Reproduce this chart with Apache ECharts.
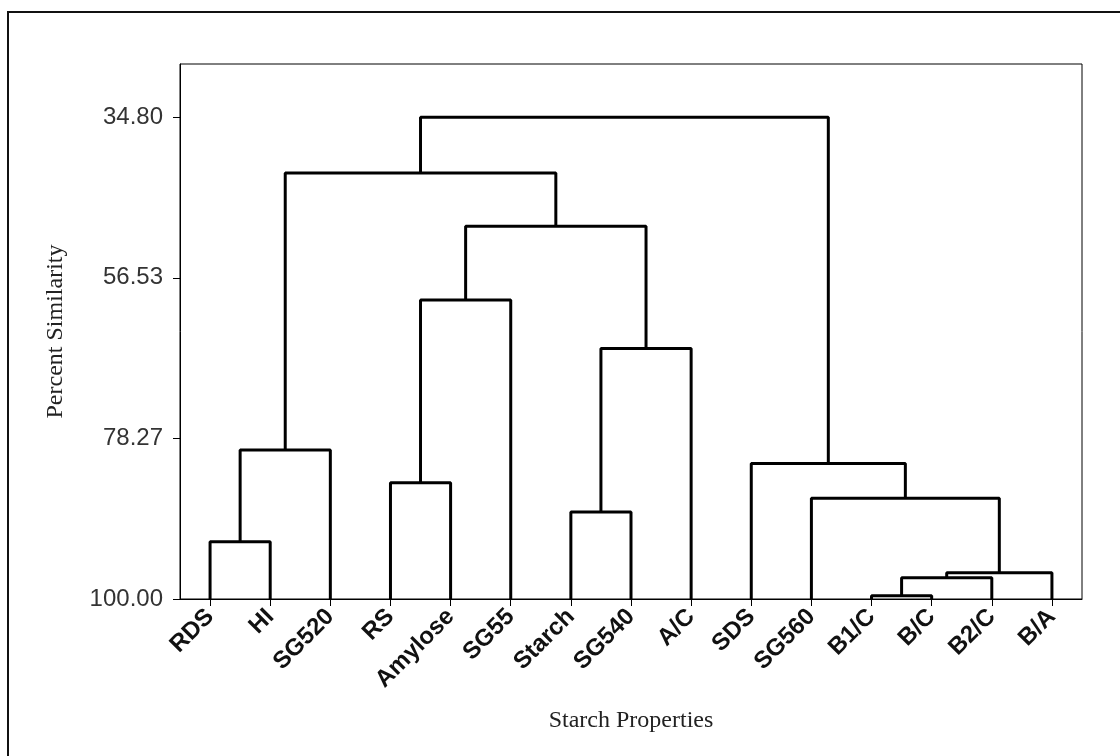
<!DOCTYPE html>
<html>
<head>
<meta charset="UTF-8">
<title>Dendrogram - Starch Properties</title>
<script src="https://cdn.jsdelivr.net/npm/echarts@6/dist/echarts.min.js"></script>
<style>
  html, body { margin: 0; padding: 0; background: #fff; }
  #chart { width: 1120px; height: 756px; }
</style>
</head>
<body>
<div id="chart"></div>
<script>
// leaves, left to right
const leaves = ['RDS', 'HI', 'SG520', 'RS', 'Amylose', 'SG55', 'Starch', 'SG540', 'A/C',
                'SDS', 'SG560', 'B1/C', 'B/C', 'B2/C', 'B/A'];
// joins: left cluster id, right cluster id, similarity (new ids start at 15)
const joinLeft  = [0, 15, 3, 17, 6, 19, 18, 16, 11, 23, 24, 10, 9, 22];
const joinRight = [1, 2, 4, 5, 7, 8, 20, 21, 12, 13, 14, 25, 26, 27];
const joinLevel = [92.25, 79.84, 84.26, 59.55, 88.23, 66.09, 49.55, 42.34,
                   99.55, 97.11, 96.44, 86.38, 81.65, 34.80];
const yTicks = [34.80, 56.53, 78.27, 100.00];

// position + height of each cluster
const pos = leaves.map((_, i) => i);
const height = leaves.map(() => 100);
const series = [];
for (let k = 0; k < joinLevel.length; k++) {
  const a = joinLeft[k], b = joinRight[k], h = joinLevel[k];
  series.push({
    type: 'line',
    symbol: 'none',
    silent: true,
    lineStyle: { color: '#000', width: 3 },
    data: [[pos[a], height[a]], [pos[a], h], [pos[b], h], [pos[b], height[b]]]
  });
  pos.push((pos[a] + pos[b]) / 2);
  height.push(h);
}

const chart = echarts.init(document.getElementById('chart'));
chart.setOption({
  animation: false,
  graphic: [{
    type: 'rect',
    shape: { x: 8, y: 12, width: 1130, height: 770 },
    style: { fill: 'none', stroke: '#111', lineWidth: 2 }
  }],
  grid: {
    left: 180, right: 38, top: 64, bottom: 157,
    show: true, borderColor: '#000', borderWidth: 1
  },
  xAxis: {
    type: 'value',
    min: -0.5,
    max: 14.5,
    name: 'Starch Properties',
    nameLocation: 'middle',
    nameGap: 110,
    nameTextStyle: { fontFamily: 'Liberation Serif', fontSize: 24, color: '#222' },
    axisLine: { onZero: false, lineStyle: { color: '#000', width: 1 } },
    axisTick: { length: 7, lineStyle: { color: '#000' }, customValues: leaves.map((_, i) => i) },
    axisLabel: {
      customValues: leaves.map((_, i) => i),
      formatter: v => leaves[Math.round(v)],
      rotate: 45,
      margin: 14,
      fontFamily: 'Liberation Sans',
      fontWeight: 'bold',
      fontSize: 24,
      color: '#111'
    },
    splitLine: { show: false }
  },
  yAxis: {
    type: 'value',
    inverse: true,
    min: 27.6,
    max: 100,
    name: 'Percent Similarity',
    nameLocation: 'middle',
    nameGap: 112,
    nameTextStyle: { fontFamily: 'Liberation Serif', fontSize: 24, color: '#222' },
    axisLine: { show: true, onZero: false, lineStyle: { color: '#000', width: 1 } },
    axisTick: { show: true, length: 7, lineStyle: { color: '#000' }, customValues: yTicks },
    axisLabel: {
      customValues: yTicks,
      formatter: v => v.toFixed(2),
      margin: 17,
      fontFamily: 'Liberation Sans',
      fontSize: 24,
      color: '#333'
    },
    splitLine: { show: false }
  },
  series: series
});
</script>
</body>
</html>
